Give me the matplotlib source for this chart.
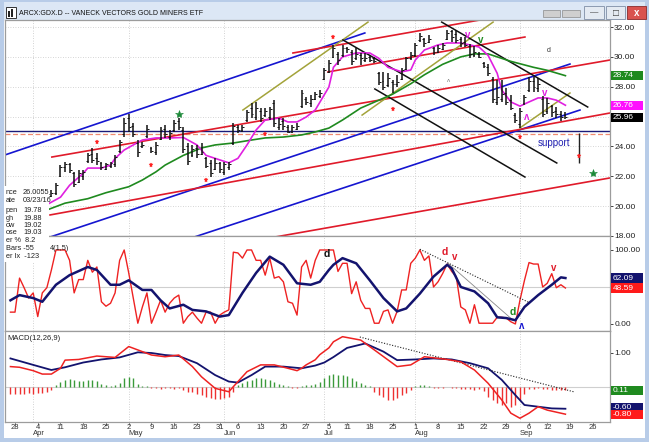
import matplotlib
matplotlib.use("Agg")
import matplotlib.pyplot as plt
from matplotlib.patches import Rectangle

plt.rcParams['font.family'] = ['Liberation Sans', 'DejaVu Sans']

# ---------------- data (trading-day index 0 = 28 Mar 2016) ----------------
bar_high = [20.0, 20.3, 20.5, 20.6, 20.8, 20.6, 20.4, 20.9, 21.1, 21.55,
            22.76, 22.96, 22.9, 22.3, 22.4, 22.4, 23.55, 23.9, 23.55, 22.96,
            22.9, 22.96, 23.4, 24.43, 25.9, 26.2, 25.57, 24.43, 24.3, 25.43,
            23.96, 24.3, 25.3, 25.43, 25.1, 25.77, 25.9, 25.3, 24.23, 24.1,
            24.1, 24.23, 23.3, 23.1, 23.23, 22.96, 22.96, 22.96, 25.57, 25.43,
            25.43, 26.44, 26.9, 26.98, 26.57, 26.57, 26.64, 27.11, 25.9, 25.9,
            25.43, 25.43, 25.57, 27.78, 27.3, 27.45, 27.65, 27.78, 29.25, 29.79,
            30.8, 30.33, 30.8, 30.66, 30.46, 30.6, 30.26, 30.26, 30.1, 30.0,
            29.0, 29.0, 28.9, 28.45, 28.8, 29.25, 30.0, 30.3, 30.93, 31.6,
            31.26, 31.46, 30.66, 30.8, 30.93, 31.8, 31.8, 31.8, 31.33, 31.33,
            30.85, 30.7, 30.3, 29.66, 29.5, 28.65, 28.45, 28.45, 27.9, 27.45,
            26.24, 26.57, 27.45, 28.65, 28.65, 28.58, 27.4, 27.25, 26.8, 26.64,
            26.4, 26.3]
bar_low = [19.2, 19.5, 19.9, 20.0, 20.2, 19.9, 19.8, 20.2, 20.6, 20.75,
           21.95, 22.3, 22.2, 21.3, 21.55, 21.75, 22.9, 22.9, 22.75, 22.42,
           22.42, 22.55, 22.6, 23.56, 24.6, 24.97, 24.6, 23.3, 23.9, 24.57,
           23.56, 23.43, 24.43, 24.57, 24.43, 24.97, 25.1, 23.56, 22.76, 23.3,
           23.23, 23.43, 22.55, 21.95, 22.42, 22.2, 22.1, 22.42, 24.1, 24.9,
           24.97, 25.64, 25.9, 25.77, 25.64, 25.97, 25.77, 25.3, 25.1, 25.1,
           24.9, 24.9, 25.1, 26.57, 26.78, 26.64, 27.1, 27.25, 28.45, 28.9,
           29.9, 29.45, 30.0, 30.26, 29.45, 29.8, 29.45, 29.66, 29.66, 29.6,
           28.1, 27.78, 27.98, 27.58, 28.0, 28.45, 29.12, 29.8, 30.0, 31.0,
           30.66, 30.93, 30.1, 30.26, 30.46, 31.13, 31.0, 30.93, 30.66, 30.66,
           29.9, 30.0, 29.9, 29.25, 28.7, 26.9, 26.78, 26.98, 26.78, 26.44,
           25.57, 25.23, 26.78, 27.65, 27.65, 27.65, 26.0, 26.2, 26.0, 25.9,
           25.7, 25.85]
bar_close = [19.6, 20.1, 20.2, 20.4, 20.5, 20.1, 20.2, 20.8, 20.9, 21.4,
             22.6, 22.8, 22.4, 21.5, 22.2, 22.3, 23.4, 23.1, 23.0, 22.6,
             22.8, 22.9, 23.3, 24.3, 25.6, 25.3, 24.8, 23.6, 24.1, 25.2,
             23.7, 24.1, 25.1, 24.8, 24.9, 25.6, 25.3, 23.8, 23.0, 23.8,
             23.5, 23.6, 22.7, 22.2, 22.9, 22.5, 22.8, 22.8, 25.4, 25.1,
             25.3, 26.3, 26.2, 26.6, 25.9, 26.4, 26.5, 25.6, 25.5, 25.4,
             25.0, 25.3, 25.4, 27.6, 27.0, 27.2, 27.5, 27.6, 29.1, 29.6,
             30.6, 29.8, 30.6, 30.5, 29.7, 30.2, 29.9, 29.9, 29.8, 29.7,
             28.3, 28.0, 28.6, 28.2, 28.3, 29.1, 29.9, 30.1, 30.8, 31.4,
             30.9, 31.2, 30.3, 30.6, 30.8, 31.6, 31.3, 31.1, 30.9, 30.8,
             30.2, 30.3, 30.0, 29.4, 28.9, 27.2, 27.3, 27.5, 27.0, 26.6,
             25.8, 26.4, 27.3, 28.4, 28.0, 28.2, 26.2, 26.9, 26.3, 26.2,
             26.0, 25.96]
bar_open = [19.4, 19.6, 20.1, 20.2, 20.4, 20.5, 20.0, 20.3, 20.7, 20.9,
            22.0, 22.6, 22.8, 22.2, 21.6, 22.0, 23.0, 23.5, 23.2, 22.9,
            22.5, 22.7, 22.8, 23.7, 24.8, 25.9, 25.4, 24.2, 24.0, 24.7,
            23.9, 23.6, 24.5, 25.2, 24.6, 25.1, 25.7, 25.1, 24.0, 23.4,
            23.9, 23.5, 23.2, 22.9, 22.5, 22.9, 22.3, 22.6, 24.2, 25.3,
            25.1, 25.8, 26.6, 26.0, 26.4, 26.1, 26.0, 26.9, 25.3, 25.7,
            25.3, 25.0, 25.2, 26.7, 27.2, 26.9, 27.2, 27.4, 28.5, 29.0,
            30.0, 30.2, 30.1, 30.6, 30.3, 29.9, 30.1, 29.8, 30.0, 29.9,
            28.9, 28.4, 28.1, 28.3, 28.2, 28.5, 29.2, 29.9, 30.1, 31.1,
            31.2, 31.0, 30.6, 30.3, 30.5, 31.2, 31.7, 31.5, 31.2, 31.0,
            30.7, 30.1, 30.2, 29.6, 29.3, 28.5, 27.0, 27.2, 27.6, 27.1,
            26.1, 25.5, 26.9, 27.8, 28.4, 27.9, 27.2, 26.4, 26.7, 26.4,
            26.2, 26.1]
bar_idx = list(range(len(bar_close)))

pink_idx = [7, 10, 12, 15, 16, 19, 21, 22, 24, 26, 28, 31, 34, 37, 40, 42, 44, 47, 49, 51,
            53, 55, 58, 60, 62, 64, 66, 69, 70, 72, 75, 78, 80, 82, 85, 87, 88, 90, 93, 95,
            98, 100, 102, 104, 106, 107, 109, 111, 113, 115, 117, 119, 121]
pink_val = [20.1, 20.6, 21.4, 22.2, 22.55, 22.55, 22.75, 23.2, 23.76, 24.1, 24.43, 24.57, 24.57, 24.6,
            24.1, 23.4, 23.2, 22.9, 23.2, 24.1, 25.1, 25.77, 25.9, 25.64, 25.64, 25.97, 26.44, 27.98,
            29.3, 30.0, 30.26, 30.26, 29.9, 29.3, 29.0, 29.12, 29.79, 30.46, 30.8, 30.93, 30.93, 30.8,
            30.66, 30.1, 28.9, 27.78, 26.98, 26.7, 26.98, 27.25, 27.25, 27.1, 26.76]
green_idx = [7, 11, 16, 20, 25, 28, 31, 33, 37, 41, 44, 48, 52, 55, 59, 63, 66, 69, 72, 76,
             80, 83, 87, 90, 94, 98, 101, 104, 109, 114, 117, 121]
green_val = [19.74, 20.2, 20.5, 20.9, 21.3, 21.75, 22.3, 22.75, 23.4, 23.9, 24.1, 24.23, 24.43, 24.57,
             24.63, 24.77, 24.97, 25.23, 25.77, 26.57, 27.1, 27.5, 28.2, 28.8, 29.5, 30.0, 30.2, 30.2,
             29.7, 29.3, 29.1, 28.74]

osc_red = [16, 16, 62, 49, 35, 42, 10, 42, 49, 73,
           100, 100, 100, 86, 42, 60, 60, 86, 70, 77,
           30, 24, 28, 42, 86, 100, 69, 35, 1, 23,
           42, 1, 16, 32, 16, 28, 35, 39, 1, 10,
           16, 8, 1, 16, 16, 1, 12, 16, 19, 97,
           96, 89, 100, 100, 86, 86, 66, 89, 62, 64,
           57, 30, 28, 12, 77, 86, 62, 86, 100, 100,
           100,
           100, 71, 82, 82, 41, 57, 32, 21, 21, 1,
           1, 17, 19, 1, 17, 46, 46, 82, 89, 100,
           86, 92, 50, 57, 68, 81, 71, 64, 23, 19,
           1, 26, 1, 1, 1, 1, 9, 9, 8, 3,
           0, 32, 59, 83, 81, 81, 50, 55, 68, 49,
           53, 48.59]
osc_idx = list(range(-1, -1 + len(osc_red)))
osc_blue_idx = [-1, 1, 4, 6, 9, 12, 16, 18, 21, 23, 25, 28, 30, 32, 34, 37, 39, 42, 45, 47,
                50, 53, 56, 59, 62, 65, 67, 69, 70, 72, 75, 78, 81, 84, 86, 89, 92, 95, 96, 98,
                101, 104, 106, 108, 110, 112, 115, 118, 120, 121]
osc_blue_val = [32, 39, 35, 30, 53, 66, 77, 73, 53, 53, 59, 46, 46, 32, 21, 26, 19, 17, 10, 12,
                42, 69, 91, 80, 55, 53, 57, 73, 80, 89, 82, 59, 35, 17, 21, 41, 64, 80, 75, 50,
                44, 28, 9, 8, 5, 23, 39, 53, 63, 62.09]

macd_red_idx = [-1, 1, 4, 6, 8, 10, 11, 14, 18, 22, 25, 28, 30, 33, 36, 39, 41, 44, 47, 48,
                51, 54, 57, 60, 62, 63, 64, 66, 67, 69, 70, 72, 76, 79, 84, 87, 90, 95, 98, 101,
                104, 107, 109, 111, 113, 115, 117, 120, 121]
macd_red_val = [0.60, 0.58, 0.48, 0.38, 0.38, 0.55, 0.79, 0.81, 0.91, 0.87, 1.19, 1.04, 0.94, 0.89,
                0.94, 0.60, 0.30, -0.04, -0.14, 0.01, 0.45, 0.65, 0.65, 0.55, 0.48, 0.55, 0.65, 0.80,
                0.95, 1.15, 1.33, 1.48, 1.38, 1.09, 0.60, 0.65, 0.89, 0.81, 0.74, 0.50, 0.11, -0.38,
                -0.77, -0.92, -0.77, -0.58, -0.68, -0.77, -0.80]
macd_blue_idx = [-1, 4, 8, 11, 15, 19, 23, 27, 30, 33, 36, 40, 44, 47, 49, 52, 55, 59, 63, 66,
                 68, 70, 73, 77, 81, 84, 88, 92, 96, 100, 104, 107, 110, 112, 115, 118, 121]
macd_blue_val = [0.84, 0.65, 0.50, 0.58, 0.72, 0.81, 0.87, 1.02, 1.0, 0.94, 0.91, 0.70, 0.35, 0.16,
                 0.13, 0.35, 0.60, 0.60, 0.55, 0.63, 0.72, 0.88, 1.15, 1.28, 1.04, 0.79, 0.81, 0.84,
                 0.81, 0.70, 0.55, 0.21, -0.24, -0.53, -0.58, -0.63, -0.64]
macd_hist = [-0.22, -0.2, -0.2, -0.2, -0.18, -0.2, -0.18, -0.18, -0.15, -0.1,
             0.05, 0.15, 0.22, 0.24, 0.2, 0.18, 0.18, 0.2, 0.2, 0.18, 0.1, 0.05, 0.03, 0.05,
             0.12, 0.25, 0.28, 0.25, 0.1, 0.04, 0.03, -0.02, -0.03, -0.05, -0.04, -0.04, -0.05, -0.03, -0.08,
             -0.14, -0.16, -0.2, -0.25, -0.3, -0.33, -0.35, -0.35, -0.33, -0.3, -0.15,
             0.05, 0.12, 0.18, 0.22, 0.25, 0.26, 0.24, 0.2, 0.15, 0.1, 0.05, 0.02, -0.02, -0.03,
             0.03, 0.05, 0.07, 0.1, 0.15, 0.27, 0.34, 0.39, 0.36, 0.34, 0.31, 0.25, 0.18, 0.12, 0.05, 0.02,
             -0.15, -0.25, -0.29, -0.37, -0.37, -0.31, -0.25, -0.18, -0.1, 0.02, 0.05, 0.05, 0.03,
             -0.02, -0.02, -0.02, 0.01, -0.02, -0.03, -0.05, -0.06, -0.06, -0.08,
             -0.05, -0.12, -0.28, -0.38, -0.48, -0.53, -0.48, -0.58, -0.53, -0.38, -0.22,
             -0.06, -0.05, -0.04, -0.05, -0.06, -0.08, -0.1, -0.1, -0.1]
hist_idx = list(range(-1, -1 + len(macd_hist)))

# trend lines drawn on the price chart: (x0, y0, x1, y1) in (day index, price)
blue_lines = [(-2.2, 23.43, 76.9, 31.6), (7.7, 17.93, 122.0, 29.52), (37.4, 17.73, 124.2, 26.44)]
red_lines = [(61.1, 30.26, 102.2, 32.47), (68.8, 28.99, 112.1, 31.33), (8.1, 23.29, 130.8, 29.79),
             (7.7, 19.41, 130.8, 26.24), (56.0, 17.87, 130.8, 21.89)]
olive_lines = [(50.1, 26.44, 77.6, 32.33), (76.3, 26.1, 105.1, 32.33), (111.0, 25.24, 122.0, 27.58)]
black_lines = [(72.1, 31.13, 119.1, 22.89), (79.1, 27.85, 112.1, 21.95), (93.8, 32.33, 125.9, 26.64)]
support_navy = 25.03
support_dash = 24.83

red_star_idx = [18, 30, 42, 55, 70, 83, 111, 124]
red_star_val = [24.3, 22.76, 21.75, 24.83, 31.33, 26.5, 24.63, 23.36]
green_star_idx = [36, 127]
green_star_val = [26.17, 22.22]
proj_idx = 124
proj_range = (22.9, 24.9)

week_idx = [0, 5, 10, 15, 20, 25, 30, 35, 40, 45, 49, 54, 59, 64, 69, 73, 78, 83, 88, 93, 98, 103,
            108, 113, 117, 122, 127]
week_lbl = ['28', '4', '11', '18', '25', '2', '9', '16', '23', '31', '6', '13', '20', '27', '5', '11',
            '18', '25', '1', '8', '15', '22', '29', '6', '12', '19', '26']
month_idx = [4, 25, 46, 68, 88, 111]
month_lbl = ['Apr', 'May', 'Jun', 'Jul', 'Aug', 'Sep']
price_ticks = [18, 20, 22, 24, 26, 28, 30, 32]

# ---------------- figure / window frame ----------------
W, H = 649, 442
fig = plt.figure(figsize=(W / 100, H / 100), dpi=100)
fig.patch.set_facecolor('#b8cce8')


def frect(x0, y0, x1, y1, **kw):
    r = Rectangle((x0 / W, 1 - y1 / H), (x1 - x0) / W, (y1 - y0) / H,
                  transform=fig.transFigure, **kw)
    fig.patches.append(r)
    return r


def ftext(x, y, s, **kw):
    return fig.text(x / W, 1 - y / H, s, **kw)


frect(4, 20, 645, 438, facecolor='white', edgecolor='none', zorder=-2)
frect(4, 2, 645, 20, facecolor='#dce7f5', edgecolor='none', zorder=-2)
# title icon
frect(6, 7, 16, 18, facecolor='white', edgecolor='#333333', linewidth=0.7, zorder=5)
frect(8, 11, 9.5, 17, facecolor='#222222', edgecolor='none', zorder=6)
frect(11, 9, 12.5, 17, facecolor='#222222', edgecolor='none', zorder=6)
ftext(19, 13.5, 'ARCX:GDX.D -- VANECK VECTORS GOLD MINERS ETF', fontsize=5.0,
      color='#111111', va='center', ha='left', zorder=6)
# title buttons
frect(543, 10, 560, 17, facecolor='#cfcfcf', edgecolor='#8a8a8a', linewidth=0.5, zorder=5)
frect(562, 10, 580, 17, facecolor='#cfcfcf', edgecolor='#8a8a8a', linewidth=0.5, zorder=5)
frect(584, 6, 604, 19, facecolor='#e4eaf2', edgecolor='#7f8ea6', linewidth=0.6, zorder=5)
frect(606, 6, 625, 19, facecolor='#e4eaf2', edgecolor='#7f8ea6', linewidth=0.6, zorder=5)
frect(627, 6, 646, 19, facecolor='#d9534f', edgecolor='#8b2b2b', linewidth=0.6, zorder=5)
ftext(594, 13, '\u2014', fontsize=6, ha='center', va='center', color='#333333', zorder=6)
ftext(615.5, 12.5, '\u25a1', fontsize=7, ha='center', va='center', color='#333333', zorder=6)
ftext(636.5, 12.5, 'x', fontsize=7, ha='center', va='center', color='white',
      fontweight='bold', zorder=6)

X0, X1 = 5, 610


def add_ax(top, bottom):
    a = fig.add_axes([X0 / W, 1 - bottom / H, (X1 - X0) / W, (bottom - top) / H])
    a.set_xlim(-2.2, 130.8)
    a.set_facecolor('white')
    for s in a.spines.values():
        s.set_color('#9c9c9c')
        s.set_linewidth(0.9)
    a.yaxis.tick_right()
    a.tick_params(axis='y', labelsize=6, length=2, pad=1, width=0.6,
                  colors='#222222')
    a.set_xticks([])
    for m in month_idx:
        a.axvline(m, color='#c4c4c4', lw=0.6, ls=(0, (1, 2)), zorder=0.5)
    return a


ax1 = add_ax(20, 236)
ax2 = add_ax(236, 331)
ax3 = add_ax(331, 422)

# ---------------- price panel ----------------
ax1.set_ylim(18.0, 32.47)
ax1.set_yticks(price_ticks)
ax1.set_yticklabels(['' if v == 26 else '%.2f' % v for v in price_ticks])
for v in price_ticks:
    ax1.axhline(v, color='#c8c8c8', lw=0.6, ls=(0, (1, 2)), zorder=0.5)

ax1.axhline(support_navy, color='#1a1a7a', lw=1.0, zorder=1)
ax1.axhline(support_dash, color='#f08a70', lw=0.9, ls=(0, (4, 2)), zorder=1)

for (xa, ya, xb, yb) in blue_lines:
    ax1.plot([xa, xb], [ya, yb], color='#1515d0', lw=1.2, zorder=2)
for (xa, ya, xb, yb) in red_lines:
    ax1.plot([xa, xb], [ya, yb], color='#e01a2a', lw=1.2, zorder=2)
for (xa, ya, xb, yb) in olive_lines:
    ax1.plot([xa, xb], [ya, yb], color='#a3a33a', lw=1.1, zorder=2)
for (xa, ya, xb, yb) in black_lines:
    ax1.plot([xa, xb], [ya, yb], color='#111111', lw=1.1, zorder=2)

ax1.plot(green_idx, green_val, color='#1f8a1f', lw=1.2, zorder=3)
ax1.plot(pink_idx, pink_val, color='#e020e0', lw=1.2, zorder=3)

ax1.vlines(bar_idx, bar_low, bar_high, color='#111111', lw=1.1, zorder=4)
ax1.hlines(bar_close, bar_idx, [i + 0.42 for i in bar_idx], color='#111111', lw=0.7, zorder=4)
ax1.hlines(bar_open, [i - 0.42 for i in bar_idx], bar_idx, color='#111111', lw=0.7, zorder=4)

ax1.plot(red_star_idx, red_star_val, ls='none', marker='*', ms=3.6, color='#ff2020',
         markeredgewidth=0.3, zorder=5)
ax1.plot(green_star_idx, green_star_val, ls='none', marker='*', ms=6, color='#1e8a3a',
         markeredgewidth=0.4, zorder=5)
ax1.vlines([proj_idx], [proj_range[0]], [proj_range[1]], color='#222222', lw=1.0, zorder=4)

ax1.text(99.6, 31.45, 'v', color='#e020e0', fontsize=7, fontweight='bold', ha='center', va='center', zorder=6)
ax1.text(102.4, 31.1, 'v', color='#1f8a1f', fontsize=7, fontweight='bold', ha='center', va='center', zorder=6)
ax1.text(112.5, 25.95, '\u028c', color='#e020e0', fontsize=7, fontweight='bold', ha='center', va='center', zorder=6)
ax1.text(116.5, 27.6, 'v', color='#e020e0', fontsize=7, fontweight='bold', ha='center', va='center', zorder=6)
ax1.text(117.4, 30.45, 'd', color='#333333', fontsize=5, ha='center', va='center', zorder=6)
ax1.text(95.2, 28.45, '\u028c', color='#777777', fontsize=4.5, ha='center', va='center', zorder=6)
ax1.text(115.0, 24.23, 'support', color='#2020b0', fontsize=7, ha='left', va='center', zorder=6)

# ---------------- oscillator panel ----------------
ax2.set_ylim(-9.5, 118.9)
ax2.set_yticks([0, 100])
ax2.set_yticklabels(['0.00', '100.00'])
ax2.axhline(50, color='#cfcfcf', lw=0.8, zorder=0.6)
ax2.plot(osc_idx, osc_red, color='#ee2222', lw=1.0, zorder=3)
ax2.plot(osc_blue_idx, osc_blue_val, color='#13136e', lw=1.8, zorder=4)
ax2.plot([89, 113.2], [101, 28.4], color='#222222', lw=0.8, ls=(0, (1, 1.5)), zorder=3)
ax2.plot([95.2, 109.5], [82, 5], color='#888888', lw=0.6, zorder=2)
ax2.text(68.6, 94.6, 'd', color='#111111', fontsize=7.5, fontweight='bold', ha='center', va='center', zorder=6)
ax2.text(94.5, 97, 'd', color='#e01a2a', fontsize=7.5, fontweight='bold', ha='center', va='center', zorder=6)
ax2.text(96.6, 90, 'v', color='#e01a2a', fontsize=7, fontweight='bold', ha='center', va='center', zorder=6)
ax2.text(109.5, 16, 'd', color='#1f8a1f', fontsize=7.5, fontweight='bold', ha='center', va='center', zorder=6)
ax2.text(111.4, -3, '\u028c', color='#1515d0', fontsize=7, fontweight='bold', ha='center', va='center', zorder=6)
ax2.text(118.5, 76, 'v', color='#e01a2a', fontsize=7, fontweight='bold', ha='center', va='center', zorder=6)

# ---------------- MACD panel ----------------
ax3.set_ylim(-1.03, 1.647)
ax3.set_yticks([0, 1])
ax3.set_yticklabels(['', '1.00'])
ax3.axhline(0, color='#cfcfcf', lw=0.8, zorder=0.6)
pos_i = [i for i, v in zip(hist_idx, macd_hist) if v >= 0]
pos_v = [v for v in macd_hist if v >= 0]
neg_i = [i for i, v in zip(hist_idx, macd_hist) if v < 0]
neg_v = [v for v in macd_hist if v < 0]
ax3.vlines(pos_i, 0, pos_v, color='#3a9a3a', lw=1.0, zorder=2)
ax3.vlines(neg_i, 0, neg_v, color='#ee3030', lw=1.0, zorder=2)
ax3.plot(macd_blue_idx, macd_blue_val, color='#13136e', lw=1.3, zorder=3)
ax3.plot(macd_red_idx, macd_red_val, color='#ee2222', lw=1.1, zorder=4)
ax3.plot([75.8, 123.1], [1.47, -0.15], color='#222222', lw=0.8, ls=(0, (1, 1.5)), zorder=3)
ax3.text(0.004, 0.92, 'MACD(12,26,9)', transform=ax3.transAxes, fontsize=5.5,
         color='#222222', ha='left', va='center')

# x axis labels
ax3.set_xticks(week_idx)
ax3.set_xticklabels([])
ax3.tick_params(axis='x', length=2, width=0.6, colors='#777777')
for w, lbl in zip(week_idx, week_lbl):
    ax3.text(w, -5.5 / 91, lbl, transform=ax3.get_xaxis_transform(), fontsize=5.5,
             color='#333333', ha='center', va='center', clip_on=False)
for m, lbl in zip(month_idx, month_lbl):
    ax3.text(m, -11.5 / 91, lbl, transform=ax3.get_xaxis_transform(), fontsize=5.5,
             color='#333333', ha='left', va='center', clip_on=False)


# ---------------- value boxes on the right axis ----------------
def value_box(ax, val, txt, color):
    ytop = H - ax.transData.transform((0, val))[1]
    frect(611, ytop - 4.6, 643, ytop + 4.6, facecolor=color, edgecolor='none', zorder=5)
    ftext(612.5, ytop, txt, color='white', fontsize=6, va='center', ha='left', zorder=6)


value_box(ax1, 28.74, '28.74', '#1f8a1f')
value_box(ax1, 26.76, '26.76', '#ff10ff')
value_box(ax1, 25.96, '25.96', '#000000')
value_box(ax2, 62.09, '62.09', '#13136e')
value_box(ax2, 48.59, '48.59', '#ff1a1a')
value_box(ax3, -0.11, '0.11', '#1f8a1f')
value_box(ax3, -0.60, '-0.60', '#13136e')
value_box(ax3, -0.80, '-0.80', '#ff1a1a')

# ---------------- info box (left) ----------------
frect(4, 186, 49, 262, facecolor='white', edgecolor='none', zorder=5)
info_lbl = ['nce', 'ate', 'pen', 'gh', 'ow', 'ose']
info_val = ['26.0055', '03/23/16', '19.78', '19.88', '19.02', '19.03']
info_y = [193, 201, 210, 218, 226, 233]
for lb, vv, yy in zip(info_lbl, info_val, info_y):
    ftext(6, yy, lb, fontsize=5.3, color='#222222', va='center', ha='left', zorder=6)
    ftext(23, yy, vv, fontsize=5.3, color='#222222', va='center', ha='left', zorder=6)
ftext(6, 241, 'er %  8.2', fontsize=5.3, color='#222222', va='center', ha='left', zorder=6)
ftext(6, 249, 'Bars -55', fontsize=5.3, color='#222222', va='center', ha='left', zorder=6)
ftext(6, 257, 'er Ix  -123', fontsize=5.3, color='#222222', va='center', ha='left', zorder=6)
ftext(50, 249, '4(1,5)', fontsize=5.3, color='#222222', va='center', ha='left', zorder=6)

fig.savefig('out.png', dpi=100, facecolor=fig.get_facecolor())
